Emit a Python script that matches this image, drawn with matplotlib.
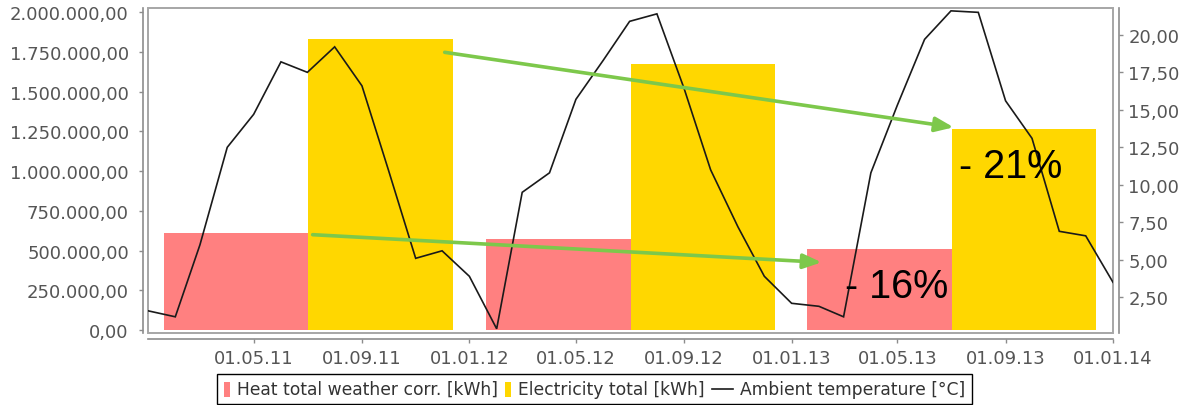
import datetime as dt

import matplotlib
matplotlib.use("Agg")
import matplotlib.pyplot as plt
import matplotlib.dates as mdates
from matplotlib.ticker import FixedLocator, FuncFormatter
from matplotlib.patches import Rectangle
from matplotlib.lines import Line2D
from matplotlib.offsetbox import AnchoredOffsetbox, HPacker, TextArea, DrawingArea

# ---- data -------------------------------------------------------------
years = [2011, 2012, 2013]
heat_kwh = [608000, 572000, 509000]
electricity_kwh = [1832000, 1677000, 1264000]

# monthly ambient temperature, first day of each month Jan 2011 .. Jan 2014
temp_dates = [dt.date(2011 + i // 12, i % 12 + 1, 1) for i in range(37)]
temperature = [1.6, 1.2, 6.0, 12.5, 14.7, 18.2, 17.5, 19.2, 16.6, 11.0, 5.1, 5.6,
               3.9, 0.4, 9.5, 10.8, 15.7, 18.3, 20.9, 21.4, 16.4, 11.0, 7.2, 3.9,
               2.1, 1.9, 1.2, 10.8, 15.3, 19.7, 21.6, 21.5, 15.6, 13.1, 6.9, 6.6,
               3.5]

x_tick_labels = ["01.05.11", "01.09.11", "01.01.12", "01.05.12", "01.09.12",
                 "01.01.13", "01.05.13", "01.09.13", "01.01.14"]
left_ticks = [0, 250000, 500000, 750000, 1000000, 1250000, 1500000, 1750000, 2000000]
right_ticks = [2.5, 5.0, 7.5, 10.0, 12.5, 15.0, 17.5, 20.0]

legend_labels = ["Heat total weather corr. [kWh]", "Electricity total [kWh]",
                 "Ambient temperature [°C]"]

# reduction arrows: (start date, start kWh) -> (end date, end kWh)
arrow_elec = ((dt.date(2011, 12, 4), 1748000), (dt.date(2013, 7, 4), 1276000))
arrow_heat = ((dt.date(2011, 7, 7), 600000), (dt.date(2013, 2, 4), 426000))
label_elec = ("- 21%", dt.date(2013, 7, 10), 963000)
label_heat = ("- 16%", dt.date(2013, 3, 3), 208000)

# ---- styling ----------------------------------------------------------
HEAT_COLOR = "#FF8080"
ELEC_COLOR = "#FFD700"
ARROW_COLOR = "#7DC84B"
AXIS_COLOR = "#8c8c8c"
LABEL_COLOR = "#555555"
BAR_WIDTH_DAYS = 164

W, H = 1191, 406
fig = plt.figure(figsize=(W / 100, H / 100), dpi=100)
ax = fig.add_axes([148 / W, 1 - 334 / H, 965 / W, 325 / H])
ax2 = ax.twinx()


def d2n(d):
    return mdates.date2num(d)


def de_number(v, pos=None):
    s = f"{v:,.2f}"
    return s.replace(",", "_").replace(".", ",").replace("_", ".")


# bars, each year grouped around mid-year
centers = [d2n(dt.date(y, 7, 2)) for y in years]
ax.bar([c - BAR_WIDTH_DAYS for c in centers], heat_kwh, width=BAR_WIDTH_DAYS,
       align="edge", color=HEAT_COLOR, linewidth=0, zorder=2)
ax.bar(centers, electricity_kwh, width=BAR_WIDTH_DAYS,
       align="edge", color=ELEC_COLOR, linewidth=0, zorder=2)

# temperature line on the secondary axis
ax2.plot([d2n(d) for d in temp_dates], temperature, color="#1a1a1a", lw=1.2,
         solid_joinstyle="miter")

ax.set_xlim(d2n(dt.date(2011, 1, 1)), d2n(dt.date(2014, 1, 1)))
ax.set_ylim(-18900, 2027000)
ax2.set_ylim(0.12, 21.79)

tick_pos = [d2n(dt.datetime.strptime(s, "%d.%m.%y")) for s in x_tick_labels]
ax.xaxis.set_major_locator(FixedLocator(tick_pos))
ax.set_xticklabels(x_tick_labels)
ax.yaxis.set_major_locator(FixedLocator(left_ticks))
ax.yaxis.set_major_formatter(FuncFormatter(de_number))
ax2.yaxis.set_major_locator(FixedLocator(right_ticks))
ax2.yaxis.set_major_formatter(FuncFormatter(de_number))

# axis lines set slightly apart from the plot box
for s in ("top", "right"):
    ax.spines[s].set_visible(False)
for s in ("top", "left", "bottom"):
    ax2.spines[s].set_visible(False)
ax.spines["left"].set_position(("outward", 3.6))
ax.spines["bottom"].set_position(("outward", 4.3))
ax2.spines["right"].set_position(("outward", 4.3))
for sp in (ax.spines["left"], ax.spines["bottom"], ax2.spines["right"]):
    sp.set_color(AXIS_COLOR)
    sp.set_linewidth(1.2)

ax.add_patch(Rectangle((0, 0), 1, 1, transform=ax.transAxes, fill=False,
                       edgecolor="#a6a6a6", lw=1.4, clip_on=False, zorder=5))

ax.tick_params(axis="y", length=3, width=1, color=AXIS_COLOR, labelsize=13,
               labelcolor=LABEL_COLOR, pad=7.2)
ax.tick_params(axis="x", length=3, width=1, color=AXIS_COLOR, labelsize=13,
               labelcolor=LABEL_COLOR, pad=4)
ax2.tick_params(axis="y", length=3, width=1, color=AXIS_COLOR, labelsize=13,
                labelcolor=LABEL_COLOR, pad=3.6)

# reduction arrows and percentages, drawn above the temperature line
for (d0, v0), (d1, v1) in (arrow_elec, arrow_heat):
    ax2.annotate("", xy=(d2n(d1), v1), xytext=(d2n(d0), v0),
                 xycoords=ax.transData, textcoords=ax.transData,
                 arrowprops=dict(arrowstyle="-|>,head_length=0.5,head_width=0.2",
                                 mutation_scale=22, lw=2.6, color=ARROW_COLOR,
                                 shrinkA=0, shrinkB=0))
for txt, d, v in (label_elec, label_heat):
    ax2.text(d2n(d), v, txt, transform=ax.transData, fontsize=28.5,
             family="Liberation Sans", ha="left", va="baseline", color="black")

# legend strip below the chart
def patch_box(color):
    da = DrawingArea(4.3, 10.8, 0, 0)
    da.add_artist(Rectangle((0, 0), 4.3, 10.8, facecolor=color, edgecolor="none"))
    return da


def line_box():
    da = DrawingArea(15, 10.8, 0, 0)
    da.add_artist(Line2D([0, 15], [5.4, 5.4], color="#1a1a1a", lw=1.2))
    return da


tprops = dict(fontsize=12.3, color="#333333")
items = [patch_box(HEAT_COLOR), TextArea(legend_labels[0], textprops=tprops),
         patch_box(ELEC_COLOR), TextArea(legend_labels[1], textprops=tprops),
         line_box(), TextArea(legend_labels[2], textprops=tprops)]
pack = HPacker(children=items, align="center", pad=0, sep=5.2)
legend_box = AnchoredOffsetbox(loc="center", child=pack, pad=0.45, borderpad=0,
                               frameon=True, prop=dict(size=10),
                               bbox_to_anchor=(594.5 / W, 1 - 390 / H),
                               bbox_transform=fig.transFigure)
legend_box.patch.set_edgecolor("black")
legend_box.patch.set_linewidth(1.0)
fig.add_artist(legend_box)

fig.savefig("out.png", dpi=100)
